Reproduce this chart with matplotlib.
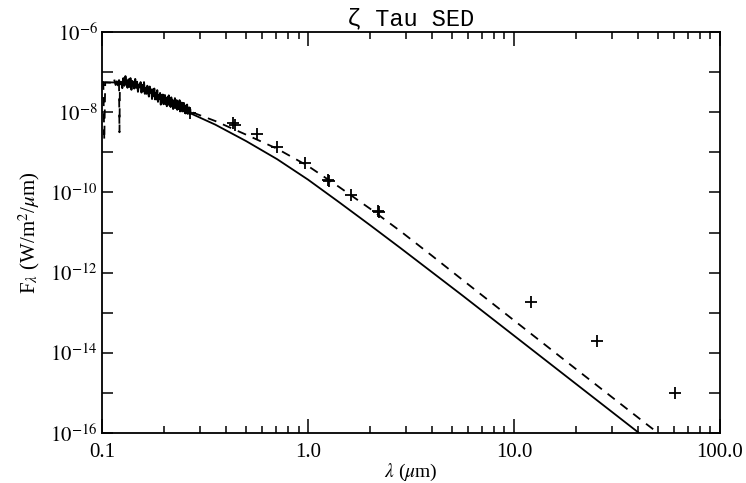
import numpy as np
import matplotlib
matplotlib.use("Agg")
import matplotlib.pyplot as plt
from matplotlib.ticker import FixedLocator, NullFormatter, LogLocator

plt.rcParams['font.family'] = ['Liberation Serif', 'DejaVu Serif']
plt.rcParams['mathtext.fontset'] = 'stix'

# ---- data ----
# IUE-like UV spectrum: wavelength (micron) and log10 flux (W/m^2/micron)
spec_wav = [0.1150, 0.1165, 0.1180, 0.1195, 0.1210, 0.1225, 0.1240, 0.1255, 0.1270, 0.1285,
            0.1300, 0.1315, 0.1330, 0.1345, 0.1360, 0.1375, 0.1390, 0.1405, 0.1420, 0.1435,
            0.1450, 0.1465, 0.1480, 0.1495, 0.1510, 0.1525, 0.1540, 0.1555, 0.1570, 0.1585,
            0.1600, 0.1615, 0.1630, 0.1645, 0.1660, 0.1675, 0.1690, 0.1705, 0.1720, 0.1735,
            0.1750, 0.1765, 0.1780, 0.1795, 0.1810, 0.1825, 0.1840, 0.1855, 0.1870, 0.1885,
            0.1900, 0.1915, 0.1930, 0.1945, 0.1960, 0.1975, 0.1990, 0.2005, 0.2020, 0.2035,
            0.2050, 0.2065, 0.2080, 0.2095, 0.2110, 0.2125, 0.2140, 0.2155, 0.2170, 0.2185,
            0.2200, 0.2215, 0.2230, 0.2245, 0.2260, 0.2275, 0.2290, 0.2305, 0.2320, 0.2335,
            0.2350, 0.2365, 0.2380, 0.2395, 0.2410, 0.2425, 0.2440, 0.2455, 0.2470, 0.2485,
            0.2500, 0.2515, 0.2530, 0.2545, 0.2560, 0.2575, 0.2590, 0.2605, 0.2620, 0.2635,
            0.2650, 0.2665, 0.2680, 0.2695]
spec_logf = [-7.21, -7.32, -7.23, -7.33, -7.20, -7.30, -7.24, -7.40, -7.15, -7.34,
             -7.10, -7.28, -7.39, -7.18, -7.37, -7.15, -7.44, -7.22, -7.28, -7.41,
             -7.17, -7.39, -7.24, -7.49, -7.31, -7.38, -7.25, -7.51, -7.32, -7.48,
             -7.25, -7.54, -7.40, -7.54, -7.34, -7.51, -7.61, -7.36, -7.51, -7.43,
             -7.67, -7.43, -7.60, -7.41, -7.68, -7.56, -7.68, -7.45, -7.74, -7.57,
             -7.67, -7.52, -7.81, -7.57, -7.73, -7.56, -7.80, -7.65, -7.57, -7.80,
             -7.65, -7.85, -7.62, -7.75, -7.58, -7.83, -7.73, -7.87, -7.63, -7.82,
             -7.69, -7.92, -7.73, -7.89, -7.65, -7.82, -7.90, -7.70, -7.94, -7.75,
             -7.79, -7.92, -7.70, -7.98, -7.79, -7.90, -7.76, -7.98, -7.78, -7.92,
             -7.77, -7.99, -7.88, -8.03, -7.83, -7.99, -7.81, -8.04, -7.89, -8.02,
             -7.88, -8.05, -7.92, -8.03]

# Model 1 (solid line)
model1_wav = [0.100, 0.141, 0.158, 0.200, 0.267, 0.355, 0.501, 0.708, 1.000, 1.413,
              1.995, 2.818, 3.981, 5.623, 10.00, 19.95, 39.81, 50.12]
model1_logf = [-7.25, -7.27, -7.36, -7.65, -8.02, -8.31, -8.72, -9.17, -9.68, -10.24,
               -10.81, -11.39, -11.98, -12.57, -13.57, -14.77, -15.97, -16.37]

# Model 2 (dashed line, with Lyman absorption dips)
model2_wav = [0.100, 0.1015, 0.1026, 0.1037, 0.120, 0.1210, 0.1216, 0.1222, 0.1232, 0.141,
              0.158, 0.200, 0.267, 0.355, 0.501, 0.708, 1.000, 1.413, 1.995, 2.818,
              3.981, 5.623, 10.00, 19.95, 44.06, 50.12]
model2_logf = [-7.25, -7.25, -8.70, -7.26, -7.27, -7.28, -8.50, -7.28, -7.27, -7.28,
               -7.36, -7.62, -7.98, -8.22, -8.56, -8.91, -9.34, -9.86, -10.40, -10.97,
               -11.57, -12.18, -13.19, -14.40, -15.78, -16.00]

# Photometry (crosses)
phot_wav = [0.269, 0.434, 0.440, 0.563, 0.705, 0.966, 1.25, 1.26, 1.61, 2.19, 2.21, 12.1, 25.2, 60.7]
phot_logf = [-8.03, -8.26, -8.31, -8.55, -8.87, -9.27, -9.68, -9.72, -10.06, -10.46, -10.50,
             -12.74, -13.71, -14.99]

xtick_vals = [0.1, 1.0, 10.0, 100.0]
xtick_labels = ['0.1', '1.0', '10.0', '100.0']
ytick_label_exps = [-16, -14, -12, -10, -8, -6]

# ---- plot ----
fig = plt.figure(figsize=(7.46, 4.83), dpi=100)
ax = fig.add_axes([0.1367, 0.1035, 0.8283, 0.8302])

to_flux = lambda lf: 10.0 ** np.asarray(lf)

ax.plot(model1_wav, to_flux(model1_logf), color='black', lw=1.3)
ax.plot(model2_wav, to_flux(model2_logf), color='black', lw=1.3, ls=(0, (5, 4)))
ax.plot(spec_wav, to_flux(spec_logf), color='black', lw=1.4)
ax.plot(phot_wav, to_flux(phot_logf), ls='none', marker='+', ms=9, mew=1.3, color='black')

ax.set_xscale('log')
ax.set_yscale('log')
ax.set_xlim(0.1, 100.0)
ax.set_ylim(1e-16, 1e-6)

ax.xaxis.set_major_locator(FixedLocator(xtick_vals))
ax.set_xticklabels(xtick_labels)
ax.xaxis.set_minor_locator(LogLocator(base=10, subs=np.arange(2, 10)))
ax.xaxis.set_minor_formatter(NullFormatter())

ax.yaxis.set_major_locator(FixedLocator([10.0 ** e for e in range(-16, -5)]))
ax.yaxis.set_minor_locator(FixedLocator([]))
ylabels = []
for e in range(-16, -5):
    ylabels.append(r'$10^{%d}$' % e if e in ytick_label_exps else '')
ax.set_yticklabels(ylabels)

ax.tick_params(which='both', direction='in', top=True, right=True, width=1.1)
ax.tick_params(which='major', length=10, labelsize=15, pad=7)
ax.tick_params(which='minor', length=5)
ax.tick_params(axis='y', which='major', length=8, pad=3)
for s in ax.spines.values():
    s.set_linewidth(1.3)

ax.set_title('ζ Tau SED', fontsize=17, pad=5, family=['Liberation Mono', 'DejaVu Sans Mono'])
ax.set_xlabel(r'$\lambda$ ($\mu$m)', fontsize=14)
ax.xaxis.set_label_coords(0.5, -0.072)
ax.set_ylabel(r'F$_\lambda$ (W/m$^2$/$\mu$m)', fontsize=15, labelpad=6)

fig.savefig('out.png', dpi=100)
